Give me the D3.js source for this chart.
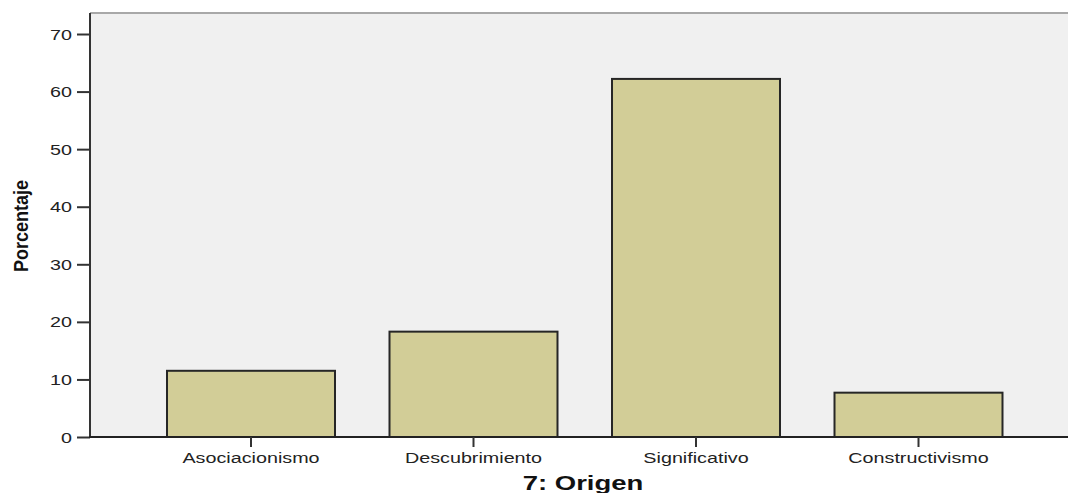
<!DOCTYPE html>
<html>
<head>
<meta charset="utf-8">
<script src="https://cdn.jsdelivr.net/npm/d3@7"></script>
<style>
  html, body { margin: 0; padding: 0; background: #fff; }
  text { font-family: "Liberation Sans", Arial, sans-serif; }
</style>
</head>
<body>
<div id="root"></div>
<script>
const categories = ["Asociacionismo", "Descubrimiento", "Significativo", "Constructivismo"]
const percents = [11.5, 18.3, 62.2, 7.7]
const yTicks = [0, 10, 20, 30, 40, 50, 60, 70]
const yTitle = "Porcentaje"
const xTitle = "7: Origen"

// SPSS output is stretched sideways, so text gets widened too
const stretch = 1.41

const width = 1068
const height = 493
const margin = { top: 13, right: 0, bottom: 56, left: 90 }

const svg = d3.select("#root").append("svg")
  .attr("width", width)
  .attr("height", height)

// plot background
svg.append("rect")
  .attr("x", margin.left)
  .attr("y", margin.top)
  .attr("width", width - margin.left + 5)
  .attr("height", height - margin.top - margin.bottom)
  .attr("fill", "#f0f0f0")

svg.append("line")
  .attr("x1", margin.left).attr("x2", width)
  .attr("y1", margin.top).attr("y2", margin.top)
  .attr("stroke", "#a8a8a8")
  .attr("stroke-width", 2)

const yScale = d3.scaleLinear()
  .domain([0, 73.65])
  .range([height - margin.bottom, margin.top])

const xScale = d3.scaleBand()
  .domain(categories)
  .range([139.75, 1029.75])
  .paddingInner(0.245)
  .paddingOuter(0.1225)

// bars
svg.selectAll("rect.bar")
  .data(percents)
  .join("rect")
  .attr("class", "bar")
  .attr("x", (d, i) => xScale(categories[i]))
  .attr("y", d => yScale(d))
  .attr("width", xScale.bandwidth())
  .attr("height", d => yScale(0) - yScale(d))
  .attr("fill", "#d2cd97")
  .attr("stroke", "#262626")
  .attr("stroke-width", 2)

// y axis
const yAxis = svg.append("g")
  .attr("transform", `translate(${margin.left},0)`)
  .call(d3.axisLeft(yScale).tickValues(yTicks).tickSize(13).tickSizeOuter(0))

yAxis.select(".domain")
  .attr("stroke", "#333")
  .attr("stroke-width", 2)
  .attr("d", `M0,${margin.top}V${yScale(0)}`)
yAxis.selectAll(".tick line").attr("stroke", "#333").attr("stroke-width", 2)
yAxis.selectAll(".tick text")
  .attr("x", -18 / stretch)
  .attr("dy", "0.36em")
  .attr("transform", `scale(${stretch},1)`)
  .style("font-size", "14px")
  .attr("fill", "#222")

// x axis
const xAxis = svg.append("g")
  .attr("transform", `translate(0,${yScale(0)})`)
  .call(d3.axisBottom(xScale).tickSize(10).tickSizeOuter(0))

xAxis.select(".domain")
  .attr("stroke", "#222")
  .attr("stroke-width", 2)
  .attr("d", `M${margin.left - 1},0H${width}`)
xAxis.selectAll(".tick line").attr("stroke", "#333").attr("stroke-width", 2)
xAxis.selectAll(".tick text")
  .attr("y", 26)
  .attr("dy", 0)
  .attr("transform", `scale(${stretch},1)`)
  .style("font-size", "14px")
  .attr("fill", "#222")

// titles
svg.append("text")
  .attr("transform", `translate(583,490) scale(${stretch},1)`)
  .attr("text-anchor", "middle")
  .style("font-size", "19.5px")
  .style("font-weight", "bold")
  .attr("fill", "#111")
  .text(xTitle)

svg.append("text")
  .attr("transform", `translate(28,226) scale(${stretch * 0.85},1) rotate(-90)`)
  .attr("text-anchor", "middle")
  .attr("textLength", 92)
  .attr("lengthAdjust", "spacingAndGlyphs")
  .style("font-size", "17px")
  .style("font-weight", "bold")
  .attr("fill", "#111")
  .text(yTitle)
</script>
</body>
</html>
